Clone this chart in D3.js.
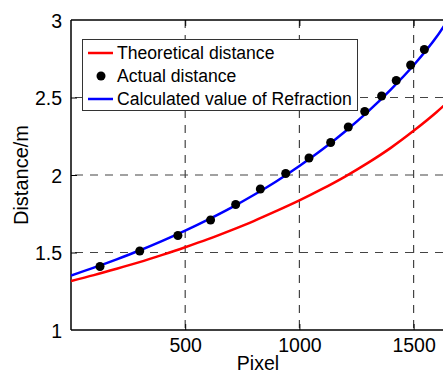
<!DOCTYPE html>
<html lang="en">
<head>
    <meta charset="UTF-8">
    <title>Distance vs Pixel</title>
    <script src="https://cdn.jsdelivr.net/npm/d3@7"></script>
    <style>
        body { margin: 0; background: #fff; }
        svg { display: block; }
        text { font-family: Arial, "Liberation Sans", sans-serif; fill: #000; }
    </style>
</head>
<body>
<script type="text/javascript">
    // data
    var pixelGrid = [0, 100, 200, 300, 400, 500, 600, 700, 800, 900, 1000, 1100, 1200, 1300, 1400, 1500, 1600, 1700];
    var theoretical = [1.316, 1.354, 1.395, 1.438, 1.485, 1.534, 1.586, 1.643, 1.703, 1.768, 1.836, 1.910, 1.990, 2.078, 2.175, 2.285, 2.405, 2.540];
    var calcPixel = [0, 100, 200, 300, 400, 500, 600, 700, 800, 900, 1000, 1100, 1200, 1300, 1400, 1500, 1600, 1650];
    var calculated = [1.351, 1.402, 1.456, 1.513, 1.575, 1.641, 1.712, 1.788, 1.871, 1.960, 2.058, 2.164, 2.281, 2.409, 2.551, 2.708, 2.890, 3.000];
    var actualPixel = [127, 301, 468, 611, 721, 829, 940, 1042, 1137, 1214, 1286, 1360, 1424, 1487, 1547];
    var actualDist = [1.41, 1.51, 1.61, 1.71, 1.81, 1.91, 2.01, 2.11, 2.21, 2.31, 2.41, 2.51, 2.61, 2.71, 2.81];
    var xTicks = [500, 1000, 1500];
    var yTicks = [1, 1.5, 2, 2.5, 3];
    var legendLabels = ['Theoretical distance', 'Actual distance', 'Calculated value of Refraction'];

    var width = 443;
    var height = 374;
    var mLeft = 71, mTop = 20, mBottom = 330;
    var xMax = 1700;
    var pxPerUnit = 0.2284;

    var svg = d3.select('body').append('svg')
            .attr('width', width)
            .attr('height', height);

    var x = d3.scaleLinear().domain([0, xMax]).range([mLeft, mLeft + xMax * pxPerUnit]);
    var y = d3.scaleLinear().domain([1, 3]).range([mBottom, mTop]);
    var mRight = x(xMax);

    svg.append('defs').append('clipPath')
            .attr('id', 'plotClip')
            .append('rect')
            .attr('x', mLeft)
            .attr('y', mTop)
            .attr('width', mRight - mLeft)
            .attr('height', mBottom - mTop);

    // dashed grid
    var grid = svg.append('g').attr('class', 'grid');
    grid.selectAll('.vgrid')
            .data(xTicks)
            .enter()
            .append('line')
            .attr('x1', function (d) { return x(d); })
            .attr('x2', function (d) { return x(d); })
            .attr('y1', mTop)
            .attr('y2', mBottom)
            .attr('stroke', '#444')
            .attr('stroke-width', 1.2)
            .attr('stroke-dasharray', '8,7');
    grid.selectAll('.hgrid')
            .data([1.5, 2, 2.5])
            .enter()
            .append('line')
            .attr('x1', mLeft + 4)
            .attr('x2', mRight)
            .attr('y1', function (d) { return y(d); })
            .attr('y2', function (d) { return y(d); })
            .attr('stroke', '#444')
            .attr('stroke-width', 1.2)
            .attr('stroke-dasharray', '8,7');

    // axes
    var xAxis = d3.axisBottom(x).tickValues(xTicks).tickSize(-6).tickPadding(8).tickFormat(d3.format('d'));
    var yAxis = d3.axisLeft(y).tickValues(yTicks).tickSize(-6).tickPadding(9).tickFormat(function (d) { return d; });
    var xTop = d3.axisTop(x).tickValues(xTicks).tickSize(-6).tickFormat('');

    var gx = svg.append('g').attr('transform', 'translate(0,' + mBottom + ')').call(xAxis);
    var gy = svg.append('g').attr('transform', 'translate(' + mLeft + ',0)').call(yAxis);
    var gt = svg.append('g').attr('transform', 'translate(0,' + mTop + ')').call(xTop);
    [gx, gy, gt].forEach(function (g) {
        g.selectAll('.domain').attr('stroke', '#000').attr('stroke-width', 1.5);
        g.selectAll('.tick line').attr('stroke', '#000').attr('stroke-width', 1);
        g.selectAll('.tick text').style('font-size', '19.5px').attr('fill', '#000')
                .style('font-family', 'Arial, "Liberation Sans", sans-serif');
    });
    gx.select('.domain').attr('d', 'M' + mLeft + ',0H' + mRight);
    gt.select('.domain').attr('d', 'M' + mLeft + ',0H' + mRight);
    gy.select('.domain').attr('d', 'M0,' + mBottom + 'V' + mTop);
    gy.selectAll('.tick text').attr('dy', '0.36em');
    gy.selectAll('.tick').filter(function (d) { return d === 1 || d === 3; }).select('line').remove();

    // curves
    var line = d3.line()
            .curve(d3.curveMonotoneX)
            .x(function (d) { return x(d[0]); })
            .y(function (d) { return y(d[1]); });
    var plot = svg.append('g').attr('clip-path', 'url(#plotClip)');
    plot.append('path')
            .datum(d3.zip(pixelGrid, theoretical))
            .attr('d', line)
            .attr('fill', 'none')
            .attr('stroke', '#ff0000')
            .attr('stroke-width', 2.5);
    plot.append('path')
            .datum(d3.zip(calcPixel, calculated))
            .attr('d', line)
            .attr('fill', 'none')
            .attr('stroke', '#0000ff')
            .attr('stroke-width', 2.5);
    svg.selectAll('.pt')
            .data(d3.zip(actualPixel, actualDist))
            .enter()
            .append('circle')
            .attr('class', 'pt')
            .attr('cx', function (d) { return x(d[0]); })
            .attr('cy', function (d) { return y(d[1]); })
            .attr('r', 4.5)
            .attr('fill', '#000');

    // axis titles
    svg.append('text')
            .attr('x', 258)
            .attr('y', 370)
            .attr('text-anchor', 'middle')
            .style('font-size', '19.5px')
            .text('Pixel');
    svg.append('text')
            .attr('transform', 'translate(28,175) rotate(-90)')
            .attr('text-anchor', 'middle')
            .style('font-size', '20px')
            .text('Distance/m');

    // legend
    var lg = svg.append('g');
    lg.append('rect')
            .attr('x', 82.5)
            .attr('y', 39.5)
            .attr('width', 275)
            .attr('height', 71)
            .attr('fill', '#fff')
            .attr('stroke', '#333')
            .attr('stroke-width', 1);
    var rowY = [53, 76, 99];
    var rows = lg.selectAll('.row')
            .data(legendLabels)
            .enter()
            .append('g')
            .attr('transform', function (d, i) { return 'translate(0,' + rowY[i] + ')'; });
    rows.filter(function (d, i) { return i !== 1; })
            .append('line')
            .attr('x1', 88)
            .attr('x2', 113)
            .attr('stroke', function (d, i) { return i === 0 ? '#ff0000' : '#0000ff'; })
            .attr('stroke-width', 2.5);
    rows.filter(function (d, i) { return i === 1; })
            .append('circle')
            .attr('cx', 101)
            .attr('r', 4.5)
            .attr('fill', '#000');
    rows.append('text')
            .attr('x', 117)
            .attr('dy', '0.35em')
            .style('font-size', '17.6px')
            .text(function (d) { return d; });
</script>
</body>
</html>
